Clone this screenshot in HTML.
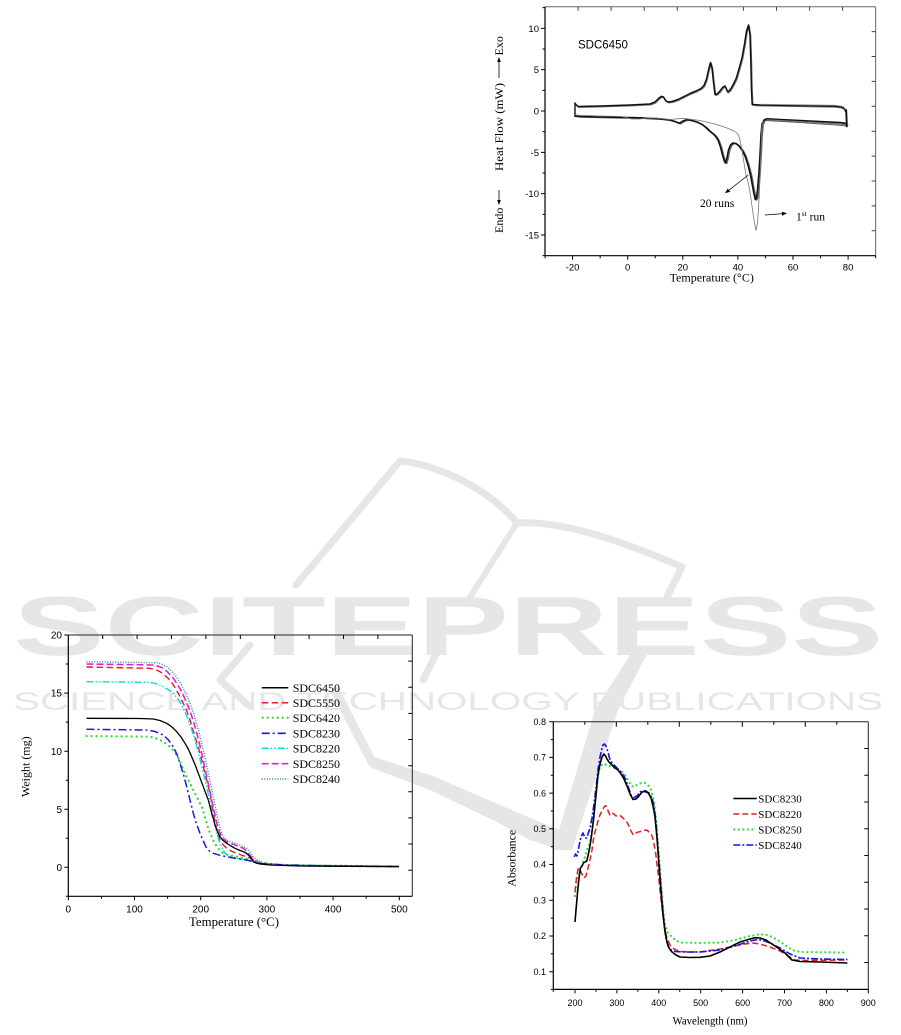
<!DOCTYPE html>
<html><head><meta charset="utf-8">
<style>html,body{margin:0;padding:0;background:#fff}svg{display:block}</style>
</head><body>
<svg width="901" height="1035" viewBox="0 0 901 1035" xmlns="http://www.w3.org/2000/svg">
<rect width="901" height="1035" fill="#fff"/>

<!-- ===== Watermark ===== -->
<g fill="#e6e6e6" stroke="none">
  <text x="13" y="655" font-family="Liberation Sans, sans-serif" font-weight="bold" font-size="84" textLength="870" lengthAdjust="spacingAndGlyphs">SCITEPRESS</text>
  <text x="13" y="710" font-family="Liberation Sans, sans-serif" font-size="25" textLength="870" lengthAdjust="spacingAndGlyphs">SCIENCE AND TECHNOLOGY PUBLICATIONS</text>
  <polygon points="368,755 433,776 500,805 540,822 565,832 560,850 530,840 497,822 430,790 372,768"/>
  <polygon points="632,652 648,652 618,710 572,850 553,850 595,710"/>
</g>
<g fill="none" stroke="#e6e6e6" stroke-linecap="round" stroke-linejoin="round">
  <path d="M296,585 L400,461 C440,465 490,490 517,523 C560,520 620,540 682,567 L667,597" stroke-width="7"/>
  <path d="M517,523 L470,597" stroke-width="6"/>
  <path d="M336,692 L372,762" stroke-width="9"/>
  <path d="M443,640 L423,680" stroke-width="7"/>
  <path d="M250,645 L220,680 L248,705" stroke-width="7"/>
</g>

<!-- ===== DSC chart ===== -->
<g>
  <line x1="545" y1="6.7" x2="875.65" y2="6.7" stroke="#666" stroke-width="1"/>
  <line x1="875.65" y1="6.7" x2="875.65" y2="255.7" stroke="#666" stroke-width="1"/>
  <line x1="545" y1="6.7" x2="545" y2="255.7" stroke="#000" stroke-width="1.2"/>
  <line x1="545" y1="255.7" x2="875.65" y2="255.7" stroke="#000" stroke-width="1.2"/>
  <path stroke="#000" stroke-width="1" fill="none" d="
  M572.6,255.7v4 M627.7,255.7v4 M682.8,255.7v4 M737.9,255.7v4 M793,255.7v4 M848.1,255.7v4
  M545.05,255.7v2.5 M600.15,255.7v2.5 M655.25,255.7v2.5 M710.35,255.7v2.5 M765.45,255.7v2.5 M820.55,255.7v2.5 M875.65,255.7v2.5
  M545,28.33h-4 M545,69.67h-4 M545,111h-4 M545,152.33h-4 M545,193.67h-4 M545,235h-4
  M545,7.66h-2.5 M545,49h-2.5 M545,90.33h-2.5 M545,131.67h-2.5 M545,173h-2.5 M545,214.33h-2.5 M545,255.67h-2.5"/>
  <path stroke="#444" stroke-width="1" fill="none" d="
  M578.1,6.7v4 M611.1,6.7v4 M644.2,6.7v4 M677.3,6.7v4 M710.3,6.7v4 M743.4,6.7v4 M776.5,6.7v4 M809.6,6.7v4 M842.6,6.7v4
  M875.65,31.6h-4 M875.65,56.5h-4 M875.65,81.4h-4 M875.65,106.3h-4 M875.65,131.2h-4 M875.65,156.1h-4 M875.65,181h-4 M875.65,205.9h-4 M875.65,230.8h-4"/>
  <g font-family="Liberation Sans, sans-serif" font-size="9.5" fill="#000" text-anchor="end">
    <text x="539" y="31.8">10</text><text x="539" y="73.2">5</text><text x="539" y="114.5">0</text>
    <text x="539" y="155.8">-5</text><text x="539" y="197.2">-10</text><text x="539" y="238.5">-15</text>
  </g>
  <g font-family="Liberation Sans, sans-serif" font-size="9.5" fill="#000" text-anchor="middle">
    <text x="572.6" y="270.5">-20</text><text x="627.7" y="270.5">0</text><text x="682.8" y="270.5">20</text>
    <text x="737.9" y="270.5">40</text><text x="793" y="270.5">60</text><text x="848.1" y="270.5">80</text>
  </g>
  <text x="711.7" y="281.5" font-family="Liberation Serif, serif" font-size="12" text-anchor="middle">Temperature (°C)</text>
  <g transform="translate(503,0) rotate(-90)" font-family="Liberation Serif, serif" font-size="12" fill="#000">
    <text x="-233" y="0">Endo</text>
    <line x1="-190" y1="-4" x2="-203" y2="-4" stroke="#000" stroke-width="0.8"/>
    <polygon points="-205,-4 -200,-5.8 -200,-2.2" fill="#000"/>
    <text x="-171" y="0" textLength="88" lengthAdjust="spacingAndGlyphs">Heat Flow (mW)</text>
    <line x1="-78" y1="-4" x2="-60" y2="-4" stroke="#000" stroke-width="0.8"/>
    <polygon points="-57,-4 -62,-5.8 -62,-2.2" fill="#000"/>
    <text x="-55.5" y="0">Exo</text>
  </g>
  <text x="578" y="48.5" font-family="Liberation Sans, sans-serif" font-size="11.5">SDC6450</text>

  <!-- curves -->
  <g fill="none" stroke-linejoin="round" stroke-linecap="round">
    <line x1="575" y1="103" x2="575" y2="116.5" stroke="#111" stroke-width="1.4"/>
    <!-- upper (exo) band -->
    <polyline stroke="#777" stroke-width="1.2" transform="translate(0.8,0.9)" points="575,103.5 578,106.5 600,106 630,105 650,104 655,102 658.5,98.5 661.3,96.3 663.5,97 665.5,100.5 668,102 672,101.5 678,99.5 684,96.5 690,93.5 696,91 701,88.5 704,85.5 706.5,79 708.5,70 710.5,62.5 712,68 713.5,82 715,94.5 717,94 720,91 722.5,87.5 725,86 727.7,92 730,90 733,85 736,79 739,69 742,58 744.5,44 746.5,31 748.5,25 750,35 750.8,60 751.5,90 752.2,104.5 760,105 800,105.6 835,106.3 841,107 844,108.5 846,112 846.7,126"/>
    <polyline stroke="#111" stroke-width="1.5" points="575,103.5 578,106.5 600,106 630,105 650,104 655,102 658.5,98.5 661.3,96.3 663.5,97 665.5,100.5 668,102 672,101.5 678,99.5 684,96.5 690,93.5 696,91 701,88.5 704,85.5 706.5,79 708.5,70 710.5,62.5 712,68 713.5,82 715,94.5 717,94 720,91 722.5,87.5 725,86 727.7,92 730,90 733,85 736,79 739,69 742,58 744.5,44 746.5,31 748.5,25 750,35 750.8,60 751.5,90 752.2,104.5 760,105 800,105.6 835,106.3 841,107 844,108.5 846,112 846.7,126"/>
    <polyline stroke="#888" stroke-width="0.9" points="760,104.3 800,104.8 836,105.3 843,106.5 846.5,110"/>
    <!-- lower (endo) band -->
    <polyline stroke="#666" stroke-width="1.3" transform="translate(1.3,0.6)" points="575,116 580,116.5 600,117 640,117.8 660,118.8 670,120 675,121.5 679.3,123.3 683,121 687,119.5 692,120.5 697,122 702,124.5 706,127.5 709,130.5 712,133 715,135.5 718,140 720.5,147 722.5,155 724.5,161.5 725.5,163 727,158 728.5,150 730.5,145 733,143 736,143.5 739,146 742,150 745,156 748,165 750.5,175 752.5,186 754,194 755.3,199.5 756.5,198 757.5,190 758.8,175 760,155 761,135 762,124 764,120 767,118.8 780,119.5 800,120.5 820,121.5 840,122.5 844,123 846.5,124"/>
    <polyline stroke="#111" stroke-width="1.6" points="575,116 580,116.5 600,117 640,117.8 660,118.8 670,120 675,121.5 679.3,123.3 683,121 687,119.5 692,120.5 697,122 702,124.5 706,127.5 709,130.5 712,133 715,135.5 718,140 720.5,147 722.5,155 724.5,161.5 725.5,163 727,158 728.5,150 730.5,145 733,143 736,143.5 739,146 742,150 745,156 748,165 750.5,175 752.5,186 754,194 755.3,199.5 756.5,198 757.5,190 758.8,175 760,155 761,135 762,124 764,120 767,118.8 780,119.5 800,120.5 820,121.5 840,122.5 844,123 846.5,124"/>
    <polyline stroke="#555" stroke-width="1" points="766,120.5 800,122.5 840,125.3 846.5,126"/>
    <polyline stroke="#777" stroke-width="1" points="767,119.8 800,121.6 840,124 846.5,125"/>
    <line x1="846.5" y1="110" x2="846.5" y2="126.5" stroke="#111" stroke-width="1.3"/>
    <!-- first run thin -->
    <polyline stroke="#777" stroke-width="0.8" points="575,115 600,116 622,116.5 628,118 632,119 640,119 648,117.8 655,118 670,119.5 683,118.3 700,120.5 715,124 727,128 735,131.5 738,134 740,140 742,150 744,163 746,175 748.3,183 750.5,195 752.5,210 754.5,223 756,230.5 757.3,224 758.3,212 759.3,195 760.2,172 761,150 761.7,128 763,121"/>
  </g>
  <!-- annotations -->
  <line x1="748.3" y1="175" x2="727.5" y2="191.3" stroke="#000" stroke-width="0.7"/>
  <polygon points="725,193.3 730.2,191.8 727.7,188.6" fill="#000"/>
  <text x="700" y="207" font-family="Liberation Serif, serif" font-size="11.5">20 runs</text>
  <line x1="765" y1="215" x2="783" y2="213.6" stroke="#000" stroke-width="0.7"/>
  <polygon points="787,213.3 782.15,215.7 781.85,211.7" fill="#000"/>
  <text x="796" y="220.5" font-family="Liberation Serif, serif" font-size="11.5">1<tspan font-size="7.5" dy="-4.5">st</tspan><tspan dy="4.5"> run</tspan></text>
</g>

<!-- ===== TGA chart ===== -->
<g>
  <line x1="68.3" y1="635" x2="412.3" y2="635" stroke="#222" stroke-width="1"/>
  <line x1="412.3" y1="635" x2="412.3" y2="896.3" stroke="#222" stroke-width="1"/>
  <line x1="68.3" y1="635" x2="68.3" y2="896.3" stroke="#000" stroke-width="1.2"/>
  <line x1="68.3" y1="896.3" x2="412.3" y2="896.3" stroke="#000" stroke-width="1.2"/>
  <path stroke="#000" stroke-width="1" fill="none" d="
  M68.3,635h-4 M68.3,693.1h-4 M68.3,751.2h-4 M68.3,809.2h-4 M68.3,867.3h-4
  M68.3,664h-2.5 M68.3,722.1h-2.5 M68.3,780.2h-2.5 M68.3,838.3h-2.5 M68.3,896.3h-2.5
  M68.3,896.3v4 M134.5,896.3v4 M200.7,896.3v4 M266.9,896.3v4 M333.1,896.3v4 M399.3,896.3v4
  M101.4,896.3v2.5 M167.6,896.3v2.5 M233.8,896.3v2.5 M300,896.3v2.5 M366.2,896.3v2.5
  M102.7,635v4 M137.1,635v4 M171.5,635v4 M205.9,635v4 M240.3,635v4 M274.7,635v4 M309.1,635v4 M343.5,635v4 M377.9,635v4
  M412.3,661.1h-4 M412.3,687.3h-4 M412.3,713.4h-4 M412.3,739.5h-4 M412.3,765.7h-4 M412.3,791.8h-4 M412.3,817.9h-4 M412.3,844h-4 M412.3,870.2h-4"/>
  <g font-family="Liberation Sans, sans-serif" font-size="10" fill="#000" text-anchor="end">
    <text x="62" y="638.6">20</text><text x="62" y="696.7">15</text><text x="62" y="754.8">10</text>
    <text x="62" y="812.8">5</text><text x="62" y="870.9">0</text>
  </g>
  <g font-family="Liberation Sans, sans-serif" font-size="10" fill="#000" text-anchor="middle">
    <text x="68.3" y="912.5">0</text><text x="134.5" y="912.5">100</text><text x="200.7" y="912.5">200</text>
    <text x="266.9" y="912.5">300</text><text x="333.1" y="912.5">400</text><text x="399.3" y="912.5">500</text>
  </g>
  <text x="234" y="926" font-family="Liberation Serif, serif" font-size="12.5" text-anchor="middle" textLength="90" lengthAdjust="spacingAndGlyphs">Temperature (°C)</text>
  <text transform="translate(29.5,766.7) rotate(-90)" font-family="Liberation Serif, serif" font-size="12" text-anchor="middle">Weight (mg)</text>

  <g fill="none" stroke-linejoin="round">
    <polyline stroke="#2a8a8a" stroke-width="1.4" stroke-dasharray="1 1.6" points="86.5,661.7 156.7,662.7 162,664.3 166.7,666.7 171,670.5 175,675 179.5,681.5 183.3,688.3 187,696 190,703.3 193.5,713 196.7,723.3 200,736 203.3,750 206,762 208.3,773.3 211,785.5 213.3,796.7 215.5,807.5 217.3,816.7 219.5,826 221.7,833.3 224,837.5 226.7,840 231,841.8 235,843.3 241,845.5 246.7,848.3 250,852 253.3,856.7 256.5,859.5 260,861.7 268,863.5 290,865 399,866.2"/>
    <polyline stroke="#e01e1e" stroke-width="1.4" stroke-dasharray="6.5 3.5" points="86.5,667 150,668.3 155,669.5 160,671.7 165,675.5 170,680 174,686 178.3,693.3 181.5,700 185,706.7 187.5,713 190,720 192.5,728.5 195,736.7 197.5,745 200,753.3 202.5,763 205,773.3 207.5,783.5 210,793.3 211.7,803 213.3,813.3 215,822 216.7,830 218.3,836 220,840 223,844.5 226.7,848.3 231,851 236.7,853.3 241,855 246.7,856.7 250,858 253.3,860 258,862.5 265,864 290,865.3 330,866 399,866.6"/>
    <polyline stroke="#00dede" stroke-width="1.4" stroke-dasharray="7 2 1.5 2 1.5 2" points="86.5,681.7 150,682.3 156.7,683.8 163.3,686.7 168,689.5 173.3,693.3 177.5,698.5 181.7,705 185,712 188.3,720 191.7,729.5 195,740 198.5,752.5 201.7,766.7 204.2,776.5 206.7,786.7 209.2,798.5 211.7,810 214,820.5 216,830 218,837 220,843.3 222.5,849 225,853.3 230,856 236.7,858.3 245,860 253.3,861.7 262,863.5 290,865.2 399,866.5"/>
    <polyline stroke="#dd22dd" stroke-width="1.6" stroke-dasharray="7 3" points="86.5,664 153.3,665 158,666.3 163.3,668.3 168,672.5 173.3,678.3 177.5,684.5 181.7,691.7 185,699 188.3,706.7 191.7,716 195,726.7 198.5,739.5 201.7,753.3 204.3,765.5 206.7,776.7 209.3,788.5 211.7,800 214,810.5 216,820 218,827.5 220,833.3 223,838.5 226.7,841.7 231,843.5 235,845 239,846.5 243.3,848.3 246,850.5 248.3,853.3 251,856.5 253.3,860 256.5,861.8 260,862.7 270,864.5 300,865.8 399,866.6"/>
    <polyline stroke="#22dd22" stroke-width="2.2" stroke-linecap="round" stroke-dasharray="0.01 5" points="86.5,736 150,736.7 155,738 160,740 165,743 170,746.7 173.5,750.5 176.7,755 180,762 183.3,770 186.7,777 190,783.3 193.3,790 196.7,796.7 199,801.5 201.7,806.7 204,814 206.7,823.3 209,830.5 211.7,836.7 214,842 216.7,846.7 220,850.5 223.3,853.3 228,855 233.3,856 243,858 253.3,860 262,863 280,864.8 320,865.6 399,866.3"/>
    <polyline stroke="#1a1adf" stroke-width="1.5" stroke-dasharray="8 3 2 3" points="86.5,729.3 146.7,730 155,731.5 163.3,735 168,739.5 173.3,746.7 177,754.5 180,763.3 183.5,774.5 186.7,786.7 190,800 193.3,813.3 196.5,824 200,833.3 203.5,841.5 206.7,848.3 210,851.5 213.3,853.3 220,855.3 226.7,856.7 236,858.5 246.7,860 253.3,861.7 260,863.5 280,864.8 320,865.8 399,866.5"/>
    <polyline stroke="#000" stroke-width="1.3" points="86.5,718.3 140,718.5 153.3,719 160,720.5 166.7,723.3 172,727 176.7,731.7 181,737 185,743.3 188.5,749.5 191.7,756.7 195,764.5 198.3,773.3 201,780.5 203.3,786.7 206,794 208.3,800 210,806.5 211.7,813.3 213.5,819.5 215,825 217.5,831.5 220,836.7 223,840.5 226.7,843.3 231,846 235,848.3 240,850.5 243.3,851.7 246,853 248.3,855 251,858 253.3,861.7 256,863 260,864 270,865 300,866 350,866.3 399,866.6"/>
  </g>
  <!-- legend -->
  <g fill="none">
    <line x1="261.7" y1="687.7" x2="288.3" y2="687.7" stroke="#000" stroke-width="1.5"/>
    <line x1="261.7" y1="702.7" x2="288.3" y2="702.7" stroke="#e01e1e" stroke-width="1.5" stroke-dasharray="6.5 3.5"/>
    <line x1="262.7" y1="717.7" x2="288.3" y2="717.7" stroke="#22dd22" stroke-width="2.2" stroke-linecap="round" stroke-dasharray="0.01 5"/>
    <line x1="261.7" y1="733.3" x2="288.3" y2="733.3" stroke="#1a1adf" stroke-width="1.6" stroke-dasharray="8 3 2 3"/>
    <line x1="261.7" y1="748.3" x2="288.3" y2="748.3" stroke="#00dede" stroke-width="1.5" stroke-dasharray="7 2 1.5 2 1.5 2"/>
    <line x1="261.7" y1="763.7" x2="288.3" y2="763.7" stroke="#dd22dd" stroke-width="1.6" stroke-dasharray="7 3"/>
    <line x1="261.7" y1="779" x2="288.3" y2="779" stroke="#2a8a8a" stroke-width="1.4" stroke-dasharray="1 1.6"/>
  </g>
  <g font-family="Liberation Serif, serif" font-size="12" fill="#000">
    <text x="292.7" y="691.8">SDC6450</text><text x="292.7" y="706.8">SDC5550</text>
    <text x="292.7" y="721.8">SDC6420</text><text x="292.7" y="737.4">SDC8230</text>
    <text x="292.7" y="752.4">SDC8220</text><text x="292.7" y="767.8">SDC8250</text>
    <text x="292.7" y="783.1">SDC8240</text>
  </g>
</g>

<!-- ===== UV chart ===== -->
<g>
  <line x1="553.3" y1="721.7" x2="868.3" y2="721.7" stroke="#222" stroke-width="1"/>
  <line x1="868.3" y1="721.7" x2="868.3" y2="989.4" stroke="#222" stroke-width="1"/>
  <line x1="553.3" y1="721.7" x2="553.3" y2="989.4" stroke="#000" stroke-width="1.2"/>
  <line x1="553.3" y1="989.4" x2="868.3" y2="989.4" stroke="#000" stroke-width="1.2"/>
  <path stroke="#000" stroke-width="1" fill="none" d="
  M553.3,721.7h-4 M553.3,757.4h-4 M553.3,793.1h-4 M553.3,828.8h-4 M553.3,864.5h-4 M553.3,900.3h-4 M553.3,936h-4 M553.3,971.7h-4
  M553.3,739.6h-2.5 M553.3,775.3h-2.5 M553.3,811h-2.5 M553.3,846.7h-2.5 M553.3,882.4h-2.5 M553.3,918.1h-2.5 M553.3,953.8h-2.5 M553.3,989.4h-2.5
  M575,989.4v4 M616.9,989.4v4 M658.8,989.4v4 M700.7,989.4v4 M742.6,989.4v4 M784.5,989.4v4 M826.4,989.4v4 M868.3,989.4v4
  M553.3,989.4v2.5 M595.95,989.4v2.5 M637.85,989.4v2.5 M679.75,989.4v2.5 M721.65,989.4v2.5 M763.55,989.4v2.5 M805.45,989.4v2.5 M847.35,989.4v2.5
  M584.8,721.7v3 M616.3,721.7v5 M647.8,721.7v3 M679.3,721.7v5 M710.8,721.7v3 M742.3,721.7v5 M773.8,721.7v3 M805.3,721.7v5 M836.8,721.7v3
  M868.3,748.5h-4 M868.3,775.2h-4 M868.3,802h-4 M868.3,828.7h-4 M868.3,855.5h-4 M868.3,882.3h-4 M868.3,909h-4 M868.3,935.8h-4 M868.3,962.5h-4"/>
  <g font-family="Liberation Sans, sans-serif" font-size="9" fill="#000" text-anchor="end">
    <text x="546" y="724.9">0.8</text><text x="546" y="760.6">0.7</text><text x="546" y="796.3">0.6</text>
    <text x="546" y="832">0.5</text><text x="546" y="867.7">0.4</text><text x="546" y="903.5">0.3</text>
    <text x="546" y="939.2">0.2</text><text x="546" y="974.9">0.1</text>
  </g>
  <g font-family="Liberation Sans, sans-serif" font-size="9" fill="#000" text-anchor="middle">
    <text x="575" y="1006">200</text><text x="616.9" y="1006">300</text><text x="658.8" y="1006">400</text>
    <text x="700.7" y="1006">500</text><text x="742.6" y="1006">600</text><text x="784.5" y="1006">700</text>
    <text x="826.4" y="1006">800</text><text x="868.3" y="1006">900</text>
  </g>
  <text x="710" y="1024.5" font-family="Liberation Serif, serif" font-size="11.5" text-anchor="middle" textLength="75" lengthAdjust="spacingAndGlyphs">Wavelength (nm)</text>
  <text transform="translate(515.5,858.3) rotate(-90)" font-family="Liberation Serif, serif" font-size="11.5" text-anchor="middle" textLength="57" lengthAdjust="spacingAndGlyphs">Absorbance</text>

  <g fill="none" stroke-linejoin="round">
    <polyline stroke="#33dd33" stroke-width="2.2" stroke-linecap="round" stroke-dasharray="0.01 4.5" points="575,896 576,884 577.7,873 579.5,868 581.7,866.5 583,862 585,857 587,850 589,845 590.5,840 592,828 593.5,815 595,800 596.7,787 598,776 600,767 602,764.5 604,764 607,765 611.7,766.7 615,768 618,769.5 621.7,771.7 625,775 628,780 631,785 633.3,787 636,785.5 638.3,784.5 641,783 645,783 648,785 651,790 653,797 654.5,805 656,820 658,845 660,870 662,895 663.5,913 665,925 668,933 671,936 675,940 680,942.5 700,943 720,942.5 735,940 750,936 760,934.2 768,935 776,939 785,945 792,950 800,952 847,952.5"/>
    <polyline stroke="#e02020" stroke-width="1.5" stroke-dasharray="6 3" points="575,892 576.5,878 578.3,868 580,870 582,874 584,878 586,876 588.3,867 590,860 592,850 593.3,840 595,832 597,825 598.3,820 600,815 602.3,810 604,807 605.7,805.5 607,808 608.5,812 610,815 612,813 614,814 616,816 618.3,815 620,815.5 622,817 624,819 626.7,821.7 629,826 631,831 633.3,835 636,833 638,832 640,831.7 643,830.5 646.7,830 649,832 651,834 652.3,836.7 654,844 655.7,853.3 657,865 659,880 660.5,895 662.3,910 664,922 665,930 667,938 670,945 674,949 680,951.5 690,952 700,952 720,949 735,946 745,944 752,943 760,944 770,947 780,951 790,957 795,960 810,960.5 847.4,960"/>
    <polyline stroke="#1515e0" stroke-width="1.6" stroke-dasharray="7 2 2 2" points="574.3,857 575.5,854 577,856 578.5,849 580,841 581.5,836 583,833 585,838 586.7,838 588,834 590,828 592,818 594,804 596,788 598,770 600,757 601.5,750 603,745 604.5,744 606,746 608,752 610,760 613,764 616,767 619,770 622,773 625,778 628,786 631,795 634,797.5 637,796 640,792 643.3,790.5 646,791 649,793 652,798 654,806 656,822 658,848 660,874 662,900 664,922 666,938 668,946 671,950 675,951.5 685,952 700,952 720,950 735,946 750,941 758,939.5 765,941 772,944 780,948 790,954 800,958 820,959 847.4,959.5"/>
    <polyline stroke="#000" stroke-width="1.6" points="575,922 576,910 577.5,893 579,878 580.5,868 582,866 583.5,863 585,862 586.7,861 588,856 590,846 592,832 593.5,820 595,805 596.5,790 598,775 600,764 602,757 604,754 605.5,756 607,759 609,762 612,765 615,768 618,770 621,774 624,779 627,786 630,794 633,799.5 636,799 639,796 642,792 645,791.5 648.3,793 651,798 653,806 655,817 657,838 659,866 661,892 663,915 665,932 667,942 669,948 672,952 676,955 680,957 690,957.5 700,957.3 710,956 720,952 730,947 740,942 750,939 755,937.7 760,938 766,940 772,944 778,948 785,953 792,960 800,961.5 820,962 847.4,963"/>
  </g>
  <g fill="none">
    <line x1="733.3" y1="798.5" x2="756.7" y2="798.5" stroke="#000" stroke-width="1.6"/>
    <line x1="733.3" y1="814" x2="756.7" y2="814" stroke="#e02020" stroke-width="1.6" stroke-dasharray="6 3"/>
    <line x1="734.3" y1="829.5" x2="756.7" y2="829.5" stroke="#33dd33" stroke-width="2.2" stroke-linecap="round" stroke-dasharray="0.01 4.5"/>
    <line x1="733.3" y1="845" x2="756.7" y2="845" stroke="#1515e0" stroke-width="1.6" stroke-dasharray="7 2 2 2"/>
  </g>
  <g font-family="Liberation Serif, serif" font-size="11" fill="#000">
    <text x="758.3" y="802.3">SDC8230</text><text x="758.3" y="817.8">SDC8220</text>
    <text x="758.3" y="833.3">SDC8250</text><text x="758.3" y="848.8">SDC8240</text>
  </g>
</g>
</svg>
</body></html>
